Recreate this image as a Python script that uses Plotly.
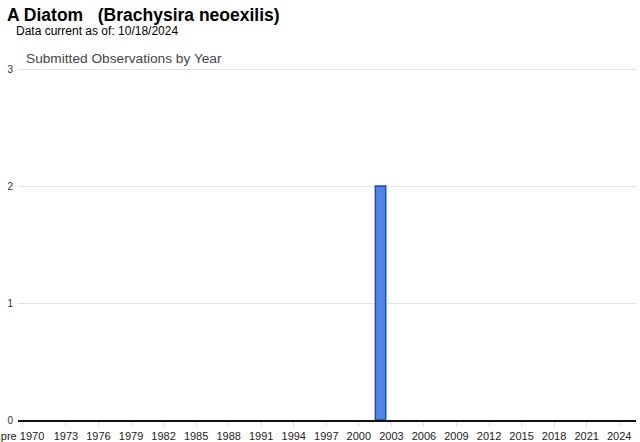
import plotly.graph_objects as go

# Data
years = ["pre 1970"] + [str(y) for y in range(1970, 2025)]
counts = [0] * len(years)
counts[years.index("2002")] = 2
tick_labels = ["pre 1970"] + [str(y) for y in range(1973, 2025, 3)]

title_text = "A Diatom   (Brachysira neoexilis)"
subtitle_text = "Data current as of: 10/18/2024"
chart_title = "Submitted Observations by Year"

# numeric positions: "pre 1970" placed at 1969
xpos = [1969] + list(range(1970, 2025))
tick_pos = [1969] + list(range(1973, 2025, 3))

bx = [x for x, c in zip(xpos, counts) if c > 0]
by = [c for c in counts if c > 0]

L, R, T, B = 18, 4, 67, 22
W, H = 640, 442

fig = go.Figure()
fig.add_trace(go.Bar(
    x=bx, y=by, width=0.95,
    marker=dict(color="#4f86e6", line=dict(color="#1b4cb0", width=1.5)),
    hoverinfo="x+y",
))

pw = W - L - R
ph = H - T - B


def px(x):
    return (x - L) / pw


def py(y):
    return (H - y - B) / ph


fig.update_layout(
    template="none",
    width=W, height=H,
    margin=dict(l=L, r=R, t=T, b=B, autoexpand=False),
    paper_bgcolor="white", plot_bgcolor="white",
    showlegend=False,
    font=dict(family="Liberation Sans, Arial, sans-serif", size=11, color="#222"),
    xaxis=dict(
        range=[1968.58, 2025.55], automargin=False,
        tickmode="array", tickvals=tick_pos, ticktext=tick_labels,
        showgrid=False, zeroline=False,
        showline=True, linecolor="#111", linewidth=1.5,
        ticks="outside", ticklen=5, tickcolor="#ddd", tickwidth=1,
        tickfont=dict(size=11, color="#222"),
        ticklabeloverflow="allow",
    ),
    yaxis=dict(
        range=[0, 3.018], tickvals=[0, 1, 2, 3], automargin=False,
        showgrid=True, gridcolor="#e3e3e3", gridwidth=1,
        zeroline=False, showline=False, ticks="",
        tickfont=dict(size=10, color="#333"),
        ticklabelstandoff=4,
    ),
    annotations=[
        dict(text="<b>" + title_text + "</b>", x=px(4.5), y=py(15), xref="paper", yref="paper",
             showarrow=False, xanchor="left", yanchor="middle",
             font=dict(size=17.5, color="#000", family="Liberation Sans, Arial, sans-serif")),
        dict(text=subtitle_text, x=px(14), y=py(31), xref="paper", yref="paper",
             showarrow=False, xanchor="left", yanchor="middle",
             font=dict(size=12, color="#000", family="Liberation Sans, Arial, sans-serif")),
        dict(text=chart_title, x=px(24), y=py(58), xref="paper", yref="paper",
             showarrow=False, xanchor="left", yanchor="middle",
             font=dict(size=13.7, color="#444", family="Liberation Sans, Arial, sans-serif")),
    ],
)

fig.write_html("out.html", config={"displayModeBar": False},
               post_script="document.body.style.margin='0';")
